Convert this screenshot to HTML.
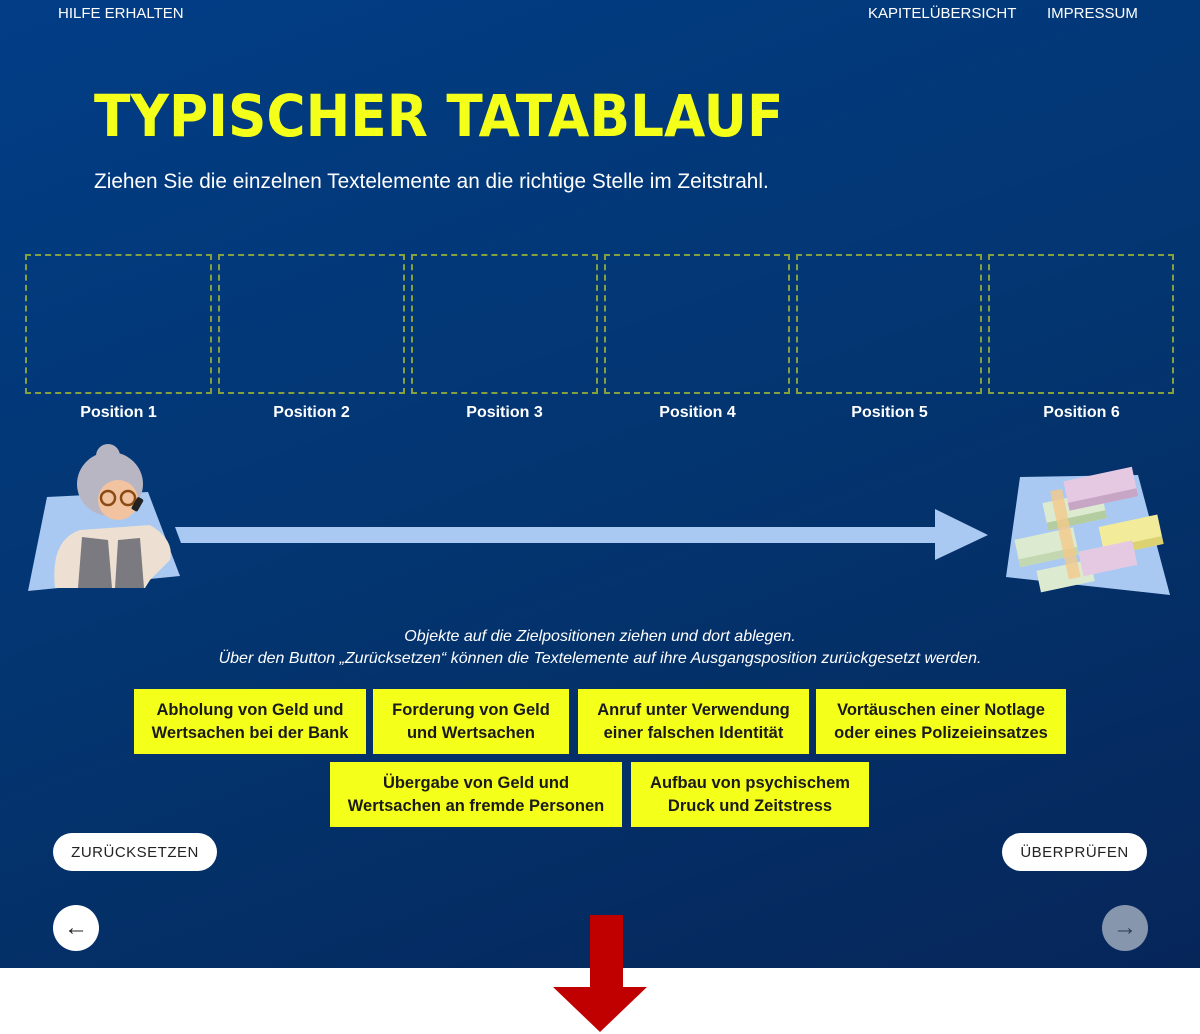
<!DOCTYPE html>
<html><head><meta charset="utf-8"><style>
*{margin:0;padding:0;box-sizing:border-box}
body{width:1200px;height:1034px;background:#fff;position:relative;overflow:hidden;font-family:"Liberation Sans",sans-serif}
#bg{position:absolute;left:0;top:0;width:1200px;height:968px;background:linear-gradient(160deg,#023d86 0%,#033570 50%,#06265a 100%)}
.a{position:absolute}
.nav{color:#fff;font-size:15px;top:5px}
.box{position:absolute;top:254px;height:140px;border:2px dashed #84a040}
.lbl{position:absolute;top:404px;width:187px;text-align:center;color:#fff;font-weight:bold;font-size:16px}
.card{position:absolute;background:#f4ff1a;color:#1a1a1a;font-weight:bold;font-size:16.5px;line-height:23px;text-align:center;display:flex;align-items:center;justify-content:center}
.btn{position:absolute;background:#fff;border-radius:20px;height:38px;top:833px;font-size:15px;letter-spacing:.5px;color:#222;display:flex;align-items:center;justify-content:center}
.circ{position:absolute;width:46px;height:46px;border-radius:50%;top:905px;display:flex;align-items:center;justify-content:center;font-size:24px}
</style></head><body>
<div id="bg"></div>
<div class="a nav" style="left:58px">HILFE ERHALTEN</div>
<div class="a nav" style="left:868px">KAPITELÜBERSICHT</div>
<div class="a nav" style="left:1047px">IMPRESSUM</div>
<div class="a" style="left:94px;top:82px;color:#f4ff1a;font-weight:900;font-size:58px;letter-spacing:0px;font-family:'DejaVu Sans',sans-serif;transform:scaleX(0.92);transform-origin:left;white-space:nowrap">TYPISCHER TATABLAUF</div>
<div class="a" style="left:94px;top:170px;color:#fff;font-size:20.8px">Ziehen Sie die einzelnen Textelemente an die richtige Stelle im Zeitstrahl.</div>

<div class="box" style="left:25px;width:187px"></div>
<div class="box" style="left:218px;width:187px"></div>
<div class="box" style="left:411px;width:187px"></div>
<div class="box" style="left:604px;width:186px"></div>
<div class="box" style="left:796px;width:186px"></div>
<div class="box" style="left:988px;width:186px"></div>
<div class="lbl" style="left:25px">Position 1</div>
<div class="lbl" style="left:218px">Position 2</div>
<div class="lbl" style="left:411px">Position 3</div>
<div class="lbl" style="left:604px">Position 4</div>
<div class="lbl" style="left:796px">Position 5</div>
<div class="lbl" style="left:988px">Position 6</div>

<svg class="a" style="left:0;top:440px" width="1200" height="170">
<polygon points="175,87 935,87 935,69 988,95 935,120 935,103 181,103" fill="#a9c9f3"/>
<polygon points="47,57 148,52 180,136 28,151" fill="#a9c9f3"/>
<ellipse cx="110" cy="44" rx="33" ry="32" fill="#b9b6c4"/>
<circle cx="108" cy="16" r="12" fill="#b9b6c4"/>
<ellipse cx="118" cy="60" rx="20" ry="20" fill="#f1c3a0"/>
<path d="M55,148 Q50,100 80,90 L150,85 Q175,100 170,120 L150,140 L145,148Z" fill="#ede0d2"/>
<path d="M78,148 L82,97 L108,100 L112,148Z M115,148 L118,100 L140,98 L144,148Z" fill="#7b7a80"/>
<circle cx="108" cy="58" r="7" fill="none" stroke="#8a4a14" stroke-width="2.5"/>
<circle cx="128" cy="58" r="7" fill="none" stroke="#8a4a14" stroke-width="2.5"/>
<rect x="134" y="57" width="7" height="14" rx="2" fill="#222" transform="rotate(30 137 64)"/>
<polygon points="1020,37 1138,35 1170,155 1006,137" fill="#a9c9f3"/>
<g transform="rotate(-12 1085 95)">
<rect x="1015" y="85" width="60" height="28" fill="#dcead0"/><rect x="1015" y="105" width="60" height="8" fill="#c3d8b0"/>
<rect x="1050" y="55" width="60" height="28" fill="#dcead0"/><rect x="1050" y="75" width="60" height="8" fill="#b3cca0"/>
<rect x="1075" y="38" width="70" height="30" fill="#e5c9e2"/><rect x="1075" y="60" width="70" height="8" fill="#c7a5c4"/>
<rect x="1100" y="90" width="60" height="30" fill="#f2ec9a"/><rect x="1100" y="112" width="60" height="8" fill="#ddd272"/>
<rect x="1030" y="120" width="55" height="22" fill="#dcead0"/>
<rect x="1075" y="110" width="55" height="25" fill="#e5c9e2"/>
<rect x="1060" y="45" width="12" height="90" fill="#f4c98a" opacity=".8"/>
</g>
</svg>

<div class="a" style="left:0;width:1200px;top:626px;text-align:center;color:#fff;font-style:italic;font-size:16px;line-height:22px">Objekte auf die Zielpositionen ziehen und dort ablegen.<br>Über den Button „Zurücksetzen“ können die Textelemente auf ihre Ausgangsposition zurückgesetzt werden.</div>

<div class="card" style="left:134px;top:689px;width:232px;height:65px">Abholung von Geld und<br>Wertsachen bei der Bank</div>
<div class="card" style="left:373px;top:689px;width:196px;height:65px">Forderung von Geld<br>und Wertsachen</div>
<div class="card" style="left:578px;top:689px;width:231px;height:65px">Anruf unter Verwendung<br>einer falschen Identität</div>
<div class="card" style="left:816px;top:689px;width:250px;height:65px">Vortäuschen einer Notlage<br>oder eines Polizeieinsatzes</div>
<div class="card" style="left:330px;top:762px;width:292px;height:65px">Übergabe von Geld und<br>Wertsachen an fremde Personen</div>
<div class="card" style="left:631px;top:762px;width:238px;height:65px">Aufbau von psychischem<br>Druck und Zeitstress</div>

<div class="btn" style="left:53px;width:164px">ZURÜCKSETZEN</div>
<div class="btn" style="left:1002px;width:145px">ÜBERPRÜFEN</div>
<div class="circ" style="left:53px;background:#fff;color:#222">←</div>
<div class="circ" style="left:1102px;background:#8596ad;color:#2b3a55">→</div>

<svg class="a" style="left:0;top:900px" width="1200" height="134">
<polygon points="590,15 623,15 623,87 647,87 600,132 553,87 590,87" fill="#c00000"/>
</svg>
</body></html>
